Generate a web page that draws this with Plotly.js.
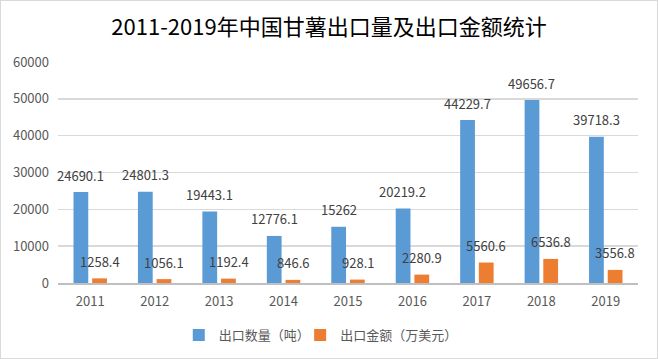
<!DOCTYPE html>
<html>
<head>
<meta charset="utf-8">
<script src="https://cdn.plot.ly/plotly-3.0.1.min.js"></script>
<style>
html,body{margin:0;padding:0;background:#fff;}
#wrap{width:656px;height:357px;border:1px solid #d9d9d9;}
#chart{width:656px;height:357px;}
</style>
</head>
<body>
<div id="wrap"><div id="chart"></div></div>
<script>
const years = ['2011','2012','2013','2014','2015','2016','2017','2018','2019'];
const volume = [24690.1, 24801.3, 19443.1, 12776.1, 15262, 20219.2, 44229.7, 49656.7, 39718.3];
const amount = [1258.4, 1056.1, 1192.4, 846.6, 928.1, 2280.9, 5560.6, 6536.8, 3556.8];
const seriesNames = ['出口数量（吨）', '出口金额（万美元）'];
const chartTitle = '2011-2019年中国甘薯出口量及出口金额统计';

const font = '"Noto Sans CJK SC", "Liberation Sans", sans-serif';
const labelColor = '#404040';

const traces = [
  {type:'bar', name: seriesNames[0], x: years, y: volume, marker:{color:'#5b9bd5'}, hoverinfo:'y', legend:'legend'},
  {type:'bar', name: seriesNames[1], x: years, y: amount, marker:{color:'#ed7d31'}, hoverinfo:'y', legend:'legend2'}
];

const annotations = [];
[volume, amount].forEach((arr, si) => {
  arr.forEach((v, i) => {
    annotations.push({
      x: i, y: v, xref:'x', yref:'y',
      text: String(v), showarrow:false,
      xshift: si === 0 ? -9.5 : 9.5, yshift: 17, yanchor:'middle',
      font:{family: font, size: 13, color: labelColor}
    });
  });
});

const legendBase = {orientation:'h', xref:'container', xanchor:'left', y:-0.168, yanchor:'top',
  font:{family: font, size: 13, color:'#595959'}, itemwidth:30, bgcolor:'rgba(0,0,0,0)'};

const layout = {
  width: 656, height: 357,
  paper_bgcolor:'#fff', plot_bgcolor:'#fff',
  margin:{l:57, r:19, t:61, b:75, autoexpand:false},
  title:{text: chartTitle, x:0.5, xanchor:'center', y:0.925, yanchor:'middle', font:{family: font, size: 22, color:'#000'}},
  barmode:'group', bargap:0.42, bargroupgap:0.21,
  xaxis:{type:'category', range:[-0.5, years.length - 0.5], autorange:false, showgrid:false, showline:true, linecolor:'#bfbfbf', linewidth:1.5,
    ticks:'', ticklabelstandoff: 6, tickfont:{family: font, size: 13, color:'#595959'}, fixedrange:true},
  yaxis:{range:[0,60000], autorange:false, dtick:10000, tick0:0, showgrid:true, gridcolor:'#d9d9d9', gridwidth:1.5,
    zeroline:false, showline:false, ticks:'', ticklabelstandoff: 8,
    tickformat:'d', tickfont:{family: font, size: 13, color:'#595959'}, fixedrange:true},
  legend: Object.assign({}, legendBase, {x: 0.271}),
  legend2: Object.assign({}, legendBase, {x: 0.456}),
  annotations: annotations,
  showlegend:true
};

Plotly.newPlot('chart', traces, layout, {displayModeBar:false, staticPlot:true});
</script>
</body>
</html>
